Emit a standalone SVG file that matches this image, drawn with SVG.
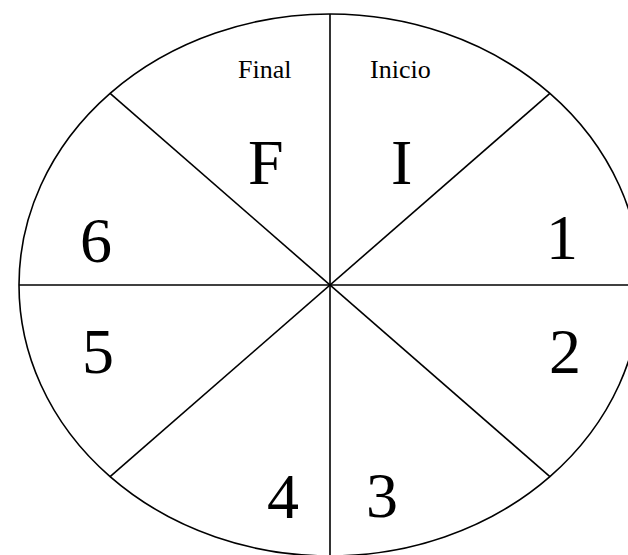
<svg xmlns="http://www.w3.org/2000/svg" width="628" height="555" viewBox="0 0 628 555">
<style>
.ln{stroke:#000;stroke-width:1.6;fill:none}
.big{font-family:"Liberation Serif","Times New Roman",serif;font-size:64px;fill:#000}
.small{font-family:"Liberation Serif","Times New Roman",serif;font-size:26px;fill:#000}
</style>
<rect width="628" height="555" fill="#fff"/>
<g id="wheel">
<ellipse class="ln" cx="330" cy="285" rx="311" ry="271"/>
</g>
<g id="connectors">
<line class="ln" x1="330" y1="14" x2="330" y2="556"/>
<line class="ln" x1="19" y1="285" x2="641" y2="285"/>
<line class="ln" x1="110.1" y1="93.4" x2="549.9" y2="476.6"/>
<line class="ln" x1="549.9" y1="93.4" x2="110.1" y2="476.6"/>
</g>
<g id="sector-F"><text class="small" x="238" y="78">Final</text><text class="big" x="248" y="184">F</text></g>
<g id="sector-I"><text class="small" x="370" y="78">Inicio</text><text class="big" x="391" y="184">I</text></g>
<g id="sector-1"><text class="big" x="546" y="259">1</text></g>
<g id="sector-2"><text class="big" x="549" y="373">2</text></g>
<g id="sector-3"><text class="big" x="366" y="517">3</text></g>
<g id="sector-4"><text class="big" x="267" y="518">4</text></g>
<g id="sector-5"><text class="big" x="82" y="373">5</text></g>
<g id="sector-6"><text class="big" x="80" y="262">6</text></g>
</svg>
